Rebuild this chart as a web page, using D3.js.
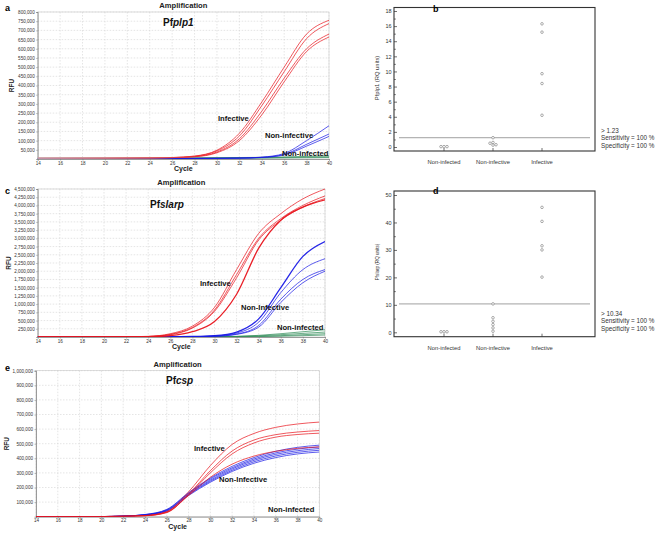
<!DOCTYPE html>
<html><head><meta charset="utf-8">
<script src="https://cdn.jsdelivr.net/npm/d3@7"></script>
<style>body{margin:0;background:#fff}svg{display:block;font-family:"Liberation Sans",Arial,sans-serif}</style>
</head><body><svg id="c" width="660" height="534"></svg>
<script>
// ---------- DATA ----------
const cycles = [14,16,18,20,22,24,26,28,30,32,34,36,38,40];
const cycleTicks = [14,16,18,20,22,24,26,28,30,32,34,36,38,40];

// Panel a: Pfplp1 amplification (RFU)
const aYTicks = [50000,100000,150000,200000,250000,300000,350000,400000,450000,500000,550000,600000,650000,700000,750000,800000];
const aInfective = [
  [5000,5000,5000,5000,5500,6000,8000,16000,48000,140000,310000,500000,680000,755000],
  [5000,5000,5000,5000,5500,6000,8000,15000,44000,125000,290000,475000,655000,737000],
  [5000,5000,5000,5000,5500,6000,7500,13000,38000,110000,260000,440000,600000,680000],
  [5000,5000,5000,5000,5500,6000,7500,12000,34000,100000,240000,420000,585000,664000]
];
const aNonInfective = [
  [3000,3000,3000,3000,3000,3000,3000,3000,3500,5000,10000,30000,100000,181000],
  [3000,3000,3000,3000,3000,3000,3000,3000,3500,5000,9000,25000,80000,136000],
  [3000,3000,3000,3000,3000,3000,3000,3000,3500,4500,8000,22000,70000,123000]
];
const aNonInfected = [
  [4000,4000,4000,4000,4000,4500,5000,6000,7000,8000,9000,11000,14000,18000],
  [3000,3000,3000,3000,3000,3500,4000,5000,6000,6500,7000,8500,10000,12000],
  [2000,2000,2000,2000,2000,2500,3000,3500,4000,4500,5000,6000,7000,8000]
];

// Panel c: Pfslarp amplification (RFU)
const cYTicks = [250000,500000,750000,1000000,1250000,1500000,1750000,2000000,2250000,2500000,2750000,3000000,3250000,3500000,3750000,4000000,4250000,4500000];
const cInfective = [
  [5000,5000,5000,6000,8000,20000,100000,330000,900000,2050000,3150000,3750000,4200000,4500000],
  [5000,5000,5000,6000,8000,15000,80000,290000,820000,1900000,3000000,3600000,4000000,4290000],
  [5000,5000,5000,6000,8000,15000,70000,270000,780000,1800000,2950000,3550000,3950000,4210000],
  [5000,5000,5000,5000,6000,8000,40000,160000,470000,1300000,2700000,3550000,3950000,4170000]
];
const cNonInfective = [
  [5000,5000,5000,5000,5000,5000,8000,15000,40000,150000,550000,1500000,2450000,2900000],
  [5000,5000,5000,5000,5000,5000,7000,12000,30000,120000,450000,1350000,2050000,2380000],
  [5000,5000,5000,5000,5000,5000,6000,10000,25000,90000,350000,1150000,1750000,2050000],
  [5000,5000,5000,5000,5000,5000,6000,10000,20000,80000,300000,1050000,1650000,2000000]
];
const cNonInfected = [
  [3000,3000,3000,3000,3000,3000,4000,5000,8000,20000,50000,100000,160000,220000],
  [3000,3000,3000,3000,3000,3000,4000,5000,7000,15000,35000,70000,110000,150000],
  [3000,3000,3000,3000,3000,3000,3500,4500,6000,10000,20000,40000,70000,100000],
  [3000,3000,3000,3000,3000,3000,3500,4000,5000,8000,12000,25000,40000,60000]
];

// Panel e: Pfcsp amplification (RFU)
const eYTicks = [100000,200000,300000,400000,500000,600000,700000,800000,900000,1000000];
const eInfective = [
  [1000,1000,1000,1000,3000,8000,35000,170000,350000,495000,570000,612000,635000,648000],
  [1000,1000,1000,1000,3000,7000,30000,155000,315000,450000,525000,562000,580000,590000],
  [1000,1000,1000,1000,3000,6000,28000,150000,300000,430000,505000,545000,563000,572000],
  [1000,1000,1000,1000,3000,7000,32000,145000,270000,360000,415000,448000,468000,478000]
];
const eNonInfective = [
  [1000,1000,1000,1000,4000,15000,50000,165000,265000,345000,405000,448000,475000,490000],
  [1000,1000,1000,1000,4000,14000,47000,160000,258000,335000,395000,437000,463000,478000],
  [1000,1000,1000,1000,4000,13000,44000,155000,250000,327000,386000,427000,452000,467000],
  [1000,1000,1000,1000,4000,12000,41000,150000,243000,318000,376000,416000,441000,455000],
  [1000,1000,1000,1000,4000,11000,38000,145000,236000,310000,366000,405000,430000,443000]
];

// Panels b & d: relative quantities
const groups = ["Non-infected","Non-infective","Infective"];
const bTicks = [0,2,4,6,8,10,12,14,16,18];
const bMinor = [1,3,5,7,9,11,13,15,17];
const bNonInfected = [0.05,0.05,0.05];
const bNonInfective = [1.23,0.6,0.5,0.3,0.25];
const bInfective = [16.3,15.2,9.7,8.4,4.2];
const bCutoff = 1.23;
const bNotes = ["> 1.23","Sensitivity = 100 %","Specificity = 100 %"];

const dTicks = [0,10,20,30,40,50];
const dMinor = [5,15,25,35,45];
const dNonInfected = [0.2,0.2,0.2];
const dNonInfective = [10.34,5.3,4.0,2.8,1.6,0.4];
const dInfective = [45.5,40.4,31.5,30.0,20.1];
const dCutoff = 10.34;
const dNotes = ["> 10.34","Sensitivity = 100 %","Specificity = 100 %"];

// ---------- DRAWING ----------
const svg = d3.select("#c");
const RED = "#e8141c", BLUE = "#1a1ae6", GREEN = "#2e8b57";
const defs = svg.append("defs");

function amp(o){
  const g = svg.append("g");
  const x = d3.scaleLinear().domain([14,40]).range([o.x0,o.x1]);
  const y = d3.scaleLinear().domain([0,o.yMax]).range([o.yb,o.yt]);
  // grid
  g.selectAll(".gy").data(o.yTicks).join("line")
    .attr("x1",o.x0).attr("x2",o.x1).attr("y1",d=>y(d)).attr("y2",d=>y(d))
    .attr("stroke","#d4d4d4").attr("stroke-width",0.6).attr("stroke-dasharray","1.5,1.5");
  g.selectAll(".gx").data(cycleTicks).join("line")
    .attr("x1",d=>x(d)).attr("x2",d=>x(d)).attr("y1",o.yt).attr("y2",o.yb)
    .attr("stroke","#d4d4d4").attr("stroke-width",0.6).attr("stroke-dasharray","1.5,1.5");
  g.append("rect").attr("x",o.x0).attr("y",o.yt).attr("width",o.x1-o.x0).attr("height",o.yb-o.yt)
    .attr("fill","none").attr("stroke","#c8c8c8").attr("stroke-width",0.6);
  // axes
  const ya = g.append("g").attr("transform",`translate(${o.x0},0)`)
    .call(d3.axisLeft(y).tickValues(o.yTicks).tickFormat(d3.format(",")).tickSize(1.5).tickPadding(1.5));
  const xa = g.append("g").attr("transform",`translate(0,${o.yb})`)
    .call(d3.axisBottom(x).tickValues(cycleTicks).tickFormat(d3.format("d")).tickSize(1.5).tickPadding(1));
  [ya,xa].forEach(a=>{
    a.selectAll("text").attr("font-size","4.6px").attr("fill","#333").attr("font-family","Liberation Sans, Arial, sans-serif");
    a.select(".domain").attr("stroke","#777").attr("stroke-width",0.7);
    a.selectAll(".tick line").attr("stroke","#777").attr("stroke-width",0.5);
  });
  // fading gradient for early baseline
  if(o.fade){
    const gr = defs.append("linearGradient").attr("id","fade"+o.id).attr("gradientUnits","userSpaceOnUse")
      .attr("x1",o.x0).attr("x2",x(29)).attr("y1",0).attr("y2",0);
    gr.append("stop").attr("offset",0).attr("stop-color","#d9a0a0");
    gr.append("stop").attr("offset",0.75).attr("stop-color","#e05050");
    gr.append("stop").attr("offset",1).attr("stop-color",RED);
  }
  // curves
  const clipId = "clip"+o.id;
  defs.append("clipPath").attr("id",clipId).append("rect")
    .attr("x",o.x0).attr("y",o.yt-1).attr("width",o.x1-o.x0).attr("height",o.yb-o.yt+1);
  const line = d3.line().x((d,i)=>x(cycles[i])).y(d=>y(d)).curve(d3.curveMonotoneX);
  const cg = g.append("g").attr("clip-path",`url(#${clipId})`);
  o.series.forEach(s=>{
    s.data.forEach((arr,k)=>{
      const col = (o.fade && s.color===RED) ? `url(#fade${o.id})` : s.color;
      cg.append("path").attr("d",line(arr)).attr("fill","none")
        .attr("stroke",col).attr("stroke-width",(s.bold&&s.bold.includes(k))?1.3:0.75)
        .attr("stroke-opacity",0.95);
    });
  });
  // texts
  g.append("text").attr("x",(o.x0+o.x1)/2).attr("y",o.yt-4).attr("text-anchor","middle")
    .attr("font-size","7.6px").attr("font-weight","bold").attr("fill","#222").text("Amplification");
  g.append("text").attr("x",(o.x0+o.x1)/2).attr("y",o.yb+12).attr("text-anchor","middle")
    .attr("font-size","7px").attr("font-weight","bold").attr("fill","#222").text("Cycle");
  g.append("text").attr("transform",`translate(${o.rfuX},${(o.yt+o.yb)/2}) rotate(-90)`).attr("text-anchor","middle")
    .attr("font-size","6.5px").attr("font-weight","bold").attr("fill","#222").text("RFU");
  g.append("text").attr("x",5).attr("y",o.letterY).attr("font-size","9px").attr("font-weight","bold").text(o.letter);
  const gt = g.append("text").attr("x",o.gene[0]).attr("y",o.gene[1]).attr("font-size","10px").attr("font-weight","bold").attr("fill","#111");
  gt.append("tspan").text("Pf");
  gt.append("tspan").attr("font-style","italic").text(o.gene[2]);
  o.labels.forEach(l=>{
    g.append("text").attr("x",l[0]).attr("y",l[1]).attr("font-size","7.6px").attr("font-weight","bold")
      .attr("fill","#111").text(l[2]);
  });
}

amp({id:"a",x0:37.7,x1:329,yt:12,yb:159,yMax:800000,yTicks:aYTicks,rfuX:14,letter:"a",letterY:11,fade:true,
  gene:[163,26,"plp1"],
  series:[{data:aNonInfected,color:GREEN},{data:aNonInfective,color:BLUE},{data:aInfective,color:RED}],
  labels:[[218,121,"Infective"],[265,138,"Non-infective"],[282,156,"Non-infected"]]});

amp({id:"c",x0:37.7,x1:325,yt:189,yb:337,yMax:4500000,yTicks:cYTicks,rfuX:11,letter:"c",letterY:194,
  gene:[150,208,"slarp"],
  series:[{data:cNonInfected,color:GREEN},{data:cNonInfective,color:BLUE,bold:[0]},{data:cInfective,color:RED,bold:[3]}],
  labels:[[200,286,"Infective"],[241,310,"Non-Infective"],[277,330,"Non-infected"]]});

amp({id:"e",x0:36,x1:319.3,yt:370.7,yb:516.7,yMax:1000000,yTicks:eYTicks,rfuX:9,letter:"e",letterY:371,
  gene:[166,384,"csp"],
  series:[{data:eNonInfective,color:BLUE},{data:eInfective,color:RED}],
  labels:[[194,451,"Infective"],[219,482,"Non-Infective"],[268,512,"Non-infected"]]});

function scatter(o){
  const g = svg.append("g");
  const x = d3.scalePoint().domain(groups).range([444,542]);
  const y = d3.scaleLinear().domain([0,o.yMax]).range([o.y0,o.yTopVal]);
  g.append("rect").attr("x",394).attr("y",o.bt).attr("width",201).attr("height",o.bb-o.bt)
    .attr("fill","none").attr("stroke","#333").attr("stroke-width",1.1);
  const ya = g.append("g").attr("transform","translate(394,0)")
    .call(d3.axisLeft(y).tickValues(o.ticks).tickSize(-3).tickPadding(2.5));
  const ym = g.append("g").attr("transform","translate(394,0)")
    .call(d3.axisLeft(y).tickValues(o.minor).tickSize(-1.8).tickFormat(""));
  [ya,ym].forEach(a=>{
    a.select(".domain").remove();
    a.selectAll(".tick line").attr("stroke","#333").attr("stroke-width",0.7);
    a.selectAll("text").attr("font-size","5.5px").attr("fill","#333").attr("font-family","Liberation Sans, Arial, sans-serif");
  });
  g.selectAll(".ct").data(groups).join("line")
    .attr("x1",d=>x(d)).attr("x2",d=>x(d)).attr("y1",o.bb).attr("y2",o.bb-3)
    .attr("stroke","#333").attr("stroke-width",0.7);
  g.selectAll(".cl").data(groups).join("text")
    .attr("x",d=>x(d)).attr("y",o.bb+13).attr("text-anchor","middle")
    .attr("font-size","5.8px").attr("fill","#333").text(d=>d);
  g.append("line").attr("x1",399).attr("x2",590).attr("y1",y(o.cut)).attr("y2",y(o.cut))
    .attr("stroke","#888").attr("stroke-width",0.8);
  const sets = [o.nonInfected,o.nonInfective,o.infective];
  sets.forEach((vals,gi)=>{
    const placed=[];
    vals.forEach(v=>{
      const py=y(v);
      const offs=[0,-3,3,-6,6];
      let dx=0;
      for(const off of offs){
        if(placed.every(p=>Math.hypot(p[0]-off,p[1]-py)>2.6)){dx=off;break;}
      }
      placed.push([dx,py]);
      g.append("circle").attr("cx",x(groups[gi])+dx).attr("cy",py).attr("r",1.3)
        .attr("fill","#fff").attr("stroke","#777").attr("stroke-width",0.6);
    });
  });
  g.append("text").attr("transform",`translate(${o.titleX},${o.titleY}) rotate(-90)`)
    .attr("text-anchor","middle").attr("font-size",o.titleSize).attr("fill","#333").text(o.title);
  o.notes.forEach((n,i)=>{
    g.append("text").attr("x",601).attr("y",o.noteY+i*7.4).attr("font-size","6.3px").attr("fill","#333").text(n);
  });
  g.append("text").attr("x",433).attr("y",o.letterY).attr("font-size","9px").attr("font-weight","bold").text(o.letter);
}

scatter({yMax:18,y0:147,yTopVal:11,bt:7.5,bb:151,ticks:bTicks,minor:bMinor,cut:bCutoff,
  nonInfected:bNonInfected,nonInfective:bNonInfective,infective:bInfective,
  title:"Pfplp1 (RQ units)",titleX:379,titleY:78,titleSize:"5.8px",notes:bNotes,noteY:133,letter:"b",letterY:12});
scatter({yMax:50,y0:332.3,yTopVal:195,bt:191,bb:336.7,ticks:dTicks,minor:dMinor,cut:dCutoff,
  nonInfected:dNonInfected,nonInfective:dNonInfective,infective:dInfective,
  title:"Pfslarp (RQ units)",titleX:379,titleY:262,titleSize:"4.6px",notes:dNotes,noteY:316,letter:"d",letterY:194});
</script></body></html>
